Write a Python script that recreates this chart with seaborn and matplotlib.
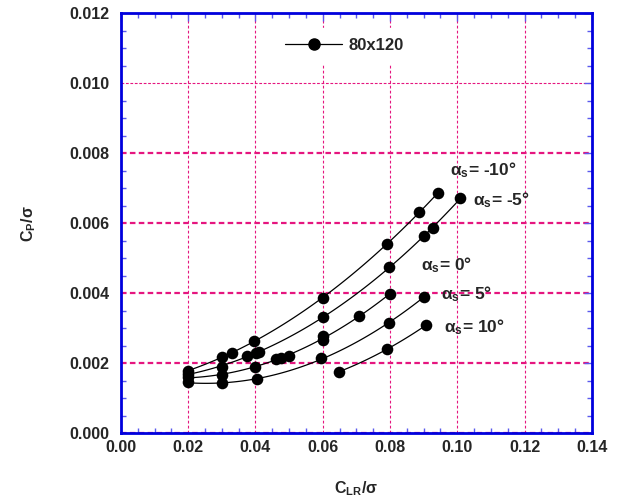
import numpy as np
import pandas as pd
import matplotlib
matplotlib.use("Agg")
import matplotlib.pyplot as plt
import seaborn as sns
from matplotlib.ticker import MultipleLocator, FormatStrFormatter

# Data: C_LR/sigma vs C_P/sigma for each shaft angle
x_m10 = [0.020, 0.030, 0.033, 0.0395, 0.060, 0.079, 0.0887, 0.0942]
y_m10 = [0.00179, 0.00218, 0.00230, 0.00263, 0.00387, 0.00541, 0.00631, 0.00686]

x_m5 = [0.020, 0.030, 0.0375, 0.0403, 0.0412, 0.060, 0.0796, 0.0902, 0.0927, 0.1008]
y_m5 = [0.00170, 0.00191, 0.00222, 0.00229, 0.00232, 0.00333, 0.00474, 0.00564, 0.00586, 0.00671]

x_0 = [0.020, 0.030, 0.040, 0.0462, 0.0475, 0.0500, 0.060, 0.060, 0.0707, 0.080]
y_0 = [0.00160, 0.00168, 0.00189, 0.00213, 0.00215, 0.00222, 0.00266, 0.00278, 0.00336, 0.00397]

x_p5 = [0.020, 0.030, 0.0404, 0.0596, 0.0796, 0.0902]
y_p5 = [0.00146, 0.00143, 0.00155, 0.00214, 0.00316, 0.00390]

x_p10 = [0.0648, 0.079, 0.0907]
y_p10 = [0.00176, 0.00240, 0.00309]

series_names = ["-10", "-5", "0", "5", "10"]
label_pos = [(0.0978, 0.00752), (0.1047, 0.00667), (0.0892, 0.00481), (0.0952, 0.00398), (0.0961, 0.00304)]

sns.set_theme(style="white")
plt.rcParams['font.family'] = ['Liberation Sans', 'DejaVu Sans']
plt.rcParams['font.weight'] = 'bold'
plt.rcParams['mathtext.fontset'] = 'custom'
plt.rcParams['mathtext.rm'] = 'Liberation Sans:bold'
plt.rcParams['mathtext.it'] = 'Liberation Sans:bold'
plt.rcParams['mathtext.bf'] = 'Liberation Sans:bold'

frames = []
for name, xs, ys in zip(series_names, [x_m10, x_m5, x_0, x_p5, x_p10],
                        [y_m10, y_m5, y_0, y_p5, y_p10]):
    frames.append(pd.DataFrame({"clr": xs, "cp": ys, "alpha": name}))
df = pd.concat(frames, ignore_index=True)

fig = plt.figure(figsize=(6.23, 5.04), dpi=100)
ax = fig.add_axes([0.194, 0.140, 0.756, 0.834])

magenta = '#e5157f'
blue = '#0000dd'

# smooth fitted curves through each series
for name in series_names:
    sub = df[df["alpha"] == name]
    sns.regplot(data=sub, x="clr", y="cp", order=2, ci=None, scatter=False,
                truncate=True, ax=ax, line_kws=dict(color='black', lw=0.9, zorder=3))

sns.scatterplot(data=df, x="clr", y="cp", color='black', s=70, edgecolor='black',
                linewidth=0, zorder=4, ax=ax, legend=False)

# legend entry
ax.plot([], [], color='black', lw=0.9, marker='o', markersize=8, label='80x120')
leg = ax.legend(loc='upper center', bbox_to_anchor=(0.475, 0.985), frameon=True,
                fontsize=12, handlelength=3.4, handletextpad=0.4,
                borderpad=0.6, fancybox=False)
leg.get_frame().set_edgecolor('white')
leg.get_frame().set_facecolor('white')
leg.get_frame().set_alpha(1)
for t in leg.get_texts():
    t.set_fontweight('bold')

for name, (lx, ly) in zip(series_names, label_pos):
    ax.text(lx, ly, r"α$_{s}$= " + name + "°", fontsize=12.5, fontweight='bold',
            ha='left', va='center', zorder=5)

ax.set_xlim(0, 0.14)
ax.set_ylim(0, 0.012)
ax.xaxis.set_major_locator(MultipleLocator(0.02))
ax.xaxis.set_minor_locator(MultipleLocator(0.005))
ax.yaxis.set_major_locator(MultipleLocator(0.002))
ax.yaxis.set_minor_locator(MultipleLocator(0.0005))
ax.xaxis.set_major_formatter(FormatStrFormatter('%.2f'))
ax.yaxis.set_major_formatter(FormatStrFormatter('%.3f'))

ax.xaxis.grid(True, color=magenta, lw=0.8, ls=(0, (2.5, 2)))
ax.yaxis.grid(True, color=magenta, lw=1.6, ls=(0, (2.5, 1.5)))
for line, val in zip(ax.yaxis.get_gridlines(), ax.get_yticks()):
    if abs(val - 0.010) < 1e-6:
        line.set_linewidth(0.8)
ax.set_axisbelow(True)

for sp in ax.spines.values():
    sp.set_color(blue)
    sp.set_linewidth(2)
    sp.set_visible(True)

ax.tick_params(which='both', direction='in', top=True, right=True, color='#5a5aee',
               labelsize=11.5)
ax.tick_params(axis='y', pad=8)
ax.tick_params(axis='x', pad=5)
ax.tick_params(which='major', length=6, width=1)
ax.tick_params(which='minor', length=3.5, width=1, bottom=True, left=True)
for lab in ax.get_xticklabels() + ax.get_yticklabels():
    lab.set_fontweight('bold')

ax.set_xlabel(r"C$_{LR}$/σ", fontsize=11.5, fontweight='bold', labelpad=17)
ax.set_ylabel(r"C$_{P}$/σ", fontsize=11.5, fontweight='bold', labelpad=23)

fig.savefig("out.png", dpi=100)
